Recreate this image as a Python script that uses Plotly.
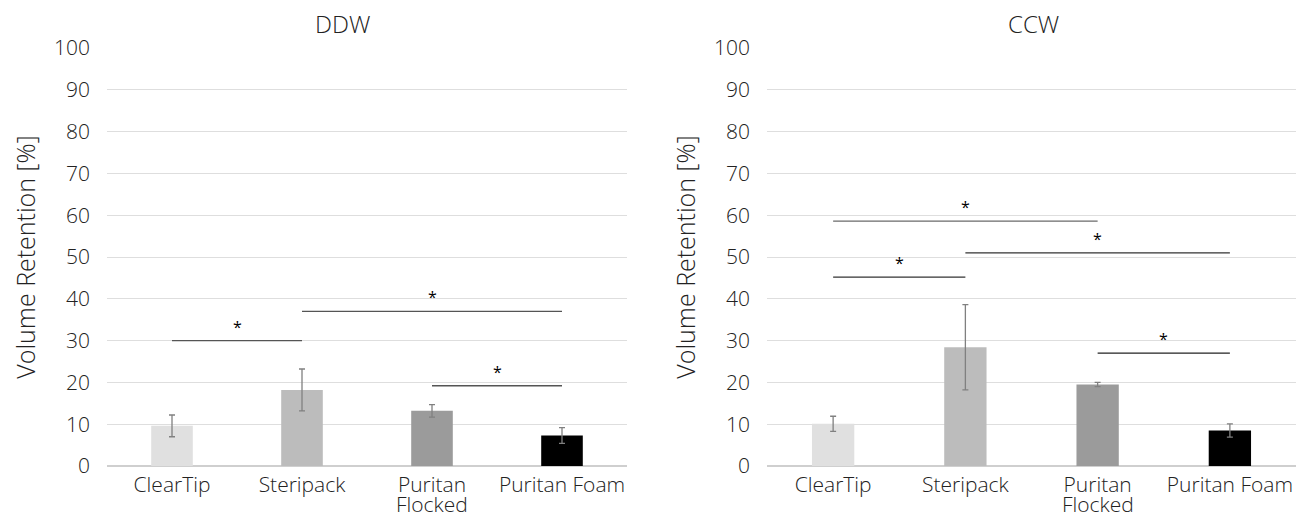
import plotly.graph_objects as go

categories = ["ClearTip", "Steripack", "Puritan Flocked", "Puritan Foam"]
tick_line1 = ["ClearTip", "Steripack", "Puritan", "Puritan Foam"]
tick_line2 = ["", "", "Flocked", ""]
colors = ["#e0e0e0", "#bcbcbc", "#9b9b9b", "#000000"]

ddw_mean = [9.6, 18.2, 13.2, 7.3]
ddw_err = [2.6, 5.0, 1.5, 1.9]
ccw_mean = [10.1, 28.4, 19.5, 8.5]
ccw_err = [1.8, 10.2, 0.5, 1.6]

# significance comparisons: (index a, index b, height)
ddw_sig = [(0, 1, 30.0), (1, 3, 37.0), (2, 3, 19.2)]
ccw_sig = [(0, 2, 58.6), (0, 1, 45.2), (1, 3, 51.0), (2, 3, 27.0)]
ccw_sig_colors = ["#6a6a6a", "#333333", "#333333", "#222222"]
ddw_sig_colors = ["#555555", "#555555", "#555555"]

W, H = 1309, 519
FONT = "Open Sans"
TXT = "#222222"

fig = go.Figure()

panels = [
    ("DDW", ddw_mean, ddw_err, ddw_sig, ddw_sig_colors, "x", "y", 342),
    ("CCW", ccw_mean, ccw_err, ccw_sig, ccw_sig_colors, "x2", "y2", 1033),
]

annotations = []
for title, mean, err, sig, sigc, xa, ya, tx in panels:
    fig.add_trace(go.Bar(
        x=categories, y=mean, xaxis=xa, yaxis=ya,
        marker=dict(color=colors, line=dict(width=0)),
        width=0.32,
        error_y=dict(type="data", array=err, visible=True, color="#808080",
                     thickness=1.3, width=3),
        showlegend=False,
    ))
    for (a, b, h), c in zip(sig, sigc):
        fig.add_trace(go.Scatter(
            x=[categories[a], categories[b]], y=[h, h], xaxis=xa, yaxis=ya,
            mode="lines", line=dict(color=c, width=1.3), showlegend=False,
            hoverinfo="skip",
        ))
        annotations.append(dict(
            x=(a + b) / 2, y=h, xref=xa, yref=ya, text="*", showarrow=False,
            yanchor="bottom", yshift=1, font=dict(size=16, color="#000000", family=FONT),
        ))
    # second line of two-line category labels
    for cat, l2 in zip(categories, tick_line2):
        if l2:
            annotations.append(dict(
                x=cat, y=1 - 504 / H, xref=xa, yref="paper", text=l2,
                showarrow=False, xanchor="center", yanchor="middle",
                font=dict(size=21, color=TXT, family=FONT, weight=300),
            ))
    annotations.append(dict(
        x=tx / W, y=1 - 24 / H, xref="paper", yref="paper", text=title,
        showarrow=False, xanchor="center", yanchor="middle",
        font=dict(size=24, color=TXT, family=FONT, weight=300),
    ))

ydom = [(H - 466) / H, (H - 48) / H]
axis_common = dict(
    range=[0, 100], dtick=10, showgrid=True, gridcolor="#dedede", gridwidth=1,
    zeroline=True, zerolinecolor="#cfcfcf", zerolinewidth=1.5,
    ticks="", ticklabelstandoff=16, automargin=False,
    tickfont=dict(size=21, color=TXT, family=FONT, weight=300),
    title=dict(text="Volume Retention [%]", standoff=11,
               font=dict(size=25, color=TXT, family=FONT, weight=300)),
)
xaxis_common = dict(
    type="category", tickvals=categories, ticktext=tick_line1,
    showgrid=False, showline=False, ticks="", zeroline=False, automargin=False,
    ticklabelstandoff=4,
    tickfont=dict(size=21, color=TXT, family=FONT, weight=300),
)

fig.update_layout(
    width=W, height=H,
    margin=dict(l=0, r=0, t=0, b=0),
    paper_bgcolor="white", plot_bgcolor="white",
    xaxis=dict(domain=[107 / W, 627 / W], anchor="y", **xaxis_common),
    yaxis=dict(domain=ydom, anchor="x", **axis_common),
    xaxis2=dict(domain=[767 / W, 1296 / W], anchor="y2", **xaxis_common),
    yaxis2=dict(domain=ydom, anchor="x2", **axis_common),
    annotations=annotations,
)

fig.write_html("out.html")
